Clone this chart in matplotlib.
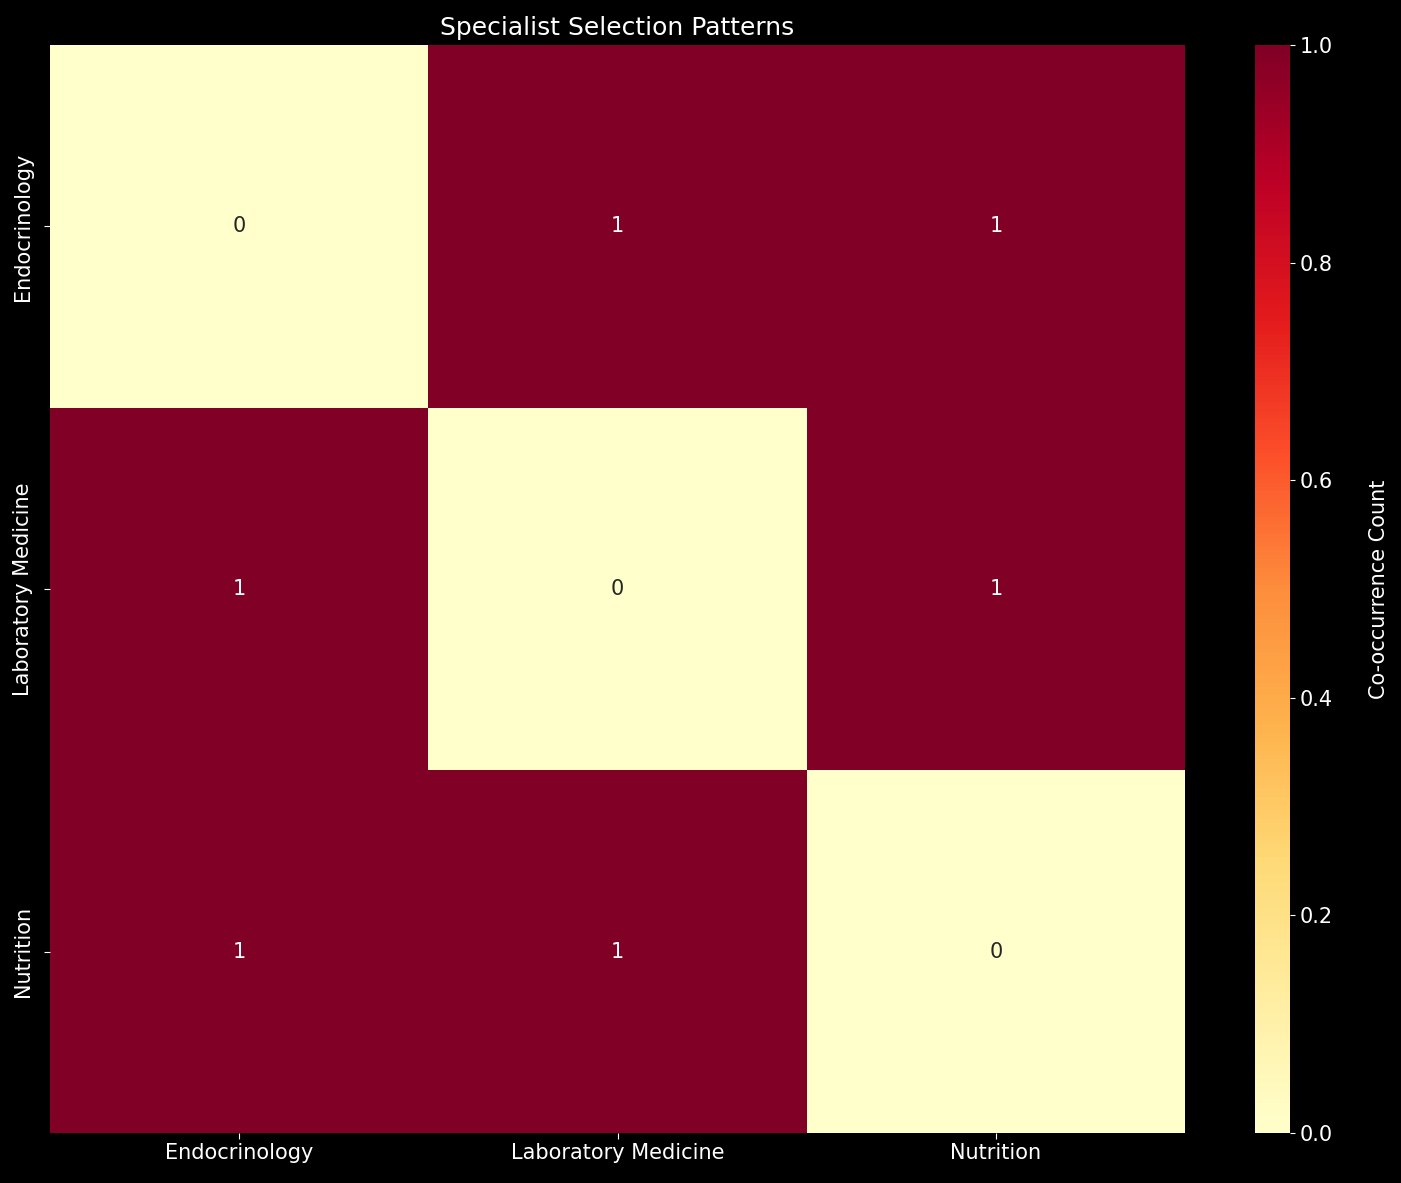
import numpy as np
import matplotlib
matplotlib.use('Agg')
import matplotlib.pyplot as plt
import seaborn as sns

specialists = ['Endocrinology', 'Laboratory Medicine', 'Nutrition']
counts = [
    [0, 1, 1],
    [1, 0, 1],
    [1, 1, 0],
]

plt.style.use('dark_background')
fig = plt.figure(figsize=(14.01, 11.83), dpi=100)
ax = fig.add_axes([50 / 1401, 50 / 1183, 1135 / 1401, 1088 / 1183])
cax = fig.add_axes([1255 / 1401, 50 / 1183, 35 / 1401, 1088 / 1183])

sns.heatmap(np.array(counts), annot=True, fmt='d', cmap='YlOrRd',
            xticklabels=specialists, yticklabels=specialists,
            ax=ax, cbar_ax=cax, cbar_kws={'label': 'Co-occurrence Count'},
            annot_kws={'fontsize': 15})

ax.set_title('Specialist Selection Patterns', fontsize=18, pad=7)
ax.tick_params(labelsize=15, length=4)
ax.tick_params(axis='y', pad=8)
cax.tick_params(labelsize=15)
cax.set_ylabel('Co-occurrence Count', fontsize=15, labelpad=26)
plt.setp(ax.get_yticklabels(), rotation=90, va='center')

fig.savefig('out.png', dpi=100)
